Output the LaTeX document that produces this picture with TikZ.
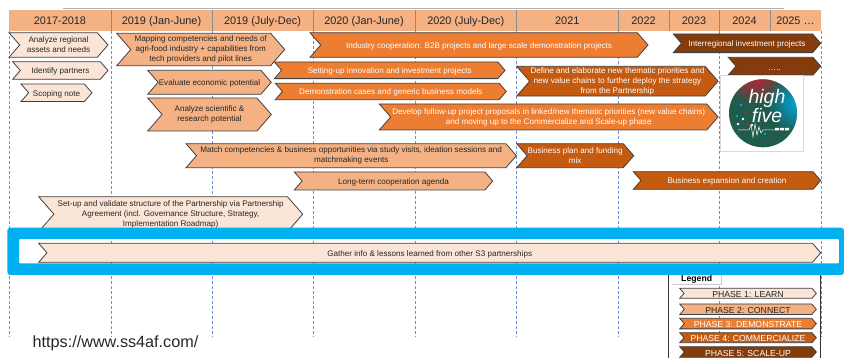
\documentclass[tikz,border=0pt]{standalone}
\usepackage{fontspec}
\setmainfont{Liberation Sans}
\usetikzlibrary{shapes.symbols, fadings}

\definecolor{PhaseLearn}{HTML}{FBE5D6}
\definecolor{PhaseConnect}{HTML}{F4B183}
\definecolor{PhaseDemonstrate}{HTML}{ED7D31}
\definecolor{PhaseCommercialize}{HTML}{C55A11}
\definecolor{PhaseScale}{HTML}{843C0C}
\definecolor{Frame}{HTML}{00B0F0}
\definecolor{GridBlue}{HTML}{6F8FCF}
\definecolor{LogoGreen}{HTML}{1F5C4C}
\definecolor{LogoRed}{HTML}{C8202F}
\definecolor{LogoCyan}{HTML}{00A6E0}

\tikzfading[name=logofade, inner color=transparent!0, outer color=transparent!100]

\tikzset{
  chevron/.style = {signal, signal from=west, signal to=east, signal pointer angle=98,
                    draw=black!75, line width=0.8pt, inner sep=0pt, outer sep=0pt,
                    align=center, font=\fontsize{8.1pt}{10pt}\selectfont,
                    execute at begin node=\rule{0pt}{8.3pt}},
  learn/.style = {chevron, fill=PhaseLearn, text=black!85},
  connect/.style = {chevron, fill=PhaseConnect, text=black!85},
  demonstrate/.style = {chevron, fill=PhaseDemonstrate, text=white},
  commercialize/.style = {chevron, fill=PhaseCommercialize, text=white},
  scaleup/.style = {chevron, fill=PhaseScale, text=white},
  legendtext/.style = {minimum width=136.6pt, font=\fontsize{8.7pt}{10pt}\selectfont},
  yearcell/.style = {rectangle, fill=PhaseConnect, inner sep=0pt, outer sep=0pt, minimum height=21pt,
                     text height=8pt, text depth=0pt,
                     font=\fontsize{10.9pt}{12pt}\selectfont, text=black!85},
  gridline/.style = {GridBlue, densely dashed, line width=0.6pt},
  yearline/.style = {black!45, line width=0.8pt},
  legendline/.style = {black!80, line width=0.7pt}
}

\begin{document}
\begin{tikzpicture}[x=1pt, y=-1pt]
  \useasboundingbox (0, 0) rectangle (844, 358);

  % Timeline header.
  \draw [black!30, line width=0.8pt] (63, 8.5) -- (784, 8.5);
  \node at (60, 20.5) [yearcell, minimum width=102pt, name=YearA] {2017-2018};
  \node at (161.5, 20.5) [yearcell, minimum width=101pt, name=YearB] {2019 (Jan-June)};
  \node at (262.5, 20.5) [yearcell, minimum width=101pt, name=YearC] {2019 (July-Dec)};
  \node at (364, 20.5) [yearcell, minimum width=102pt, name=YearD] {2020 (Jan-June)};
  \node at (465.75, 20.5) [yearcell, minimum width=101.5pt, name=YearE] {2020 (July-Dec)};
  \node at (567.25, 20.5) [yearcell, minimum width=101.5pt, name=YearF] {2021};
  \node at (643.5, 20.5) [yearcell, minimum width=51pt, name=YearG] {2022};
  \node at (694, 20.5) [yearcell, minimum width=50pt, name=YearH] {2023};
  \node at (744.5, 20.5) [yearcell, minimum width=51pt, name=YearI] {2024};
  \node at (795.4, 20.5) [yearcell, minimum width=50.8pt, name=YearJ] {2025 \dots};
  \coordinate (GridEnd) at (0, 336.5);

  \foreach \cell in {YearB, YearC, YearD, YearE, YearF, YearG, YearH, YearI, YearJ}
    \draw [yearline] (\cell.north west) -- (\cell.south west);
  \foreach \cell in {YearA, YearB, YearC, YearD, YearE, YearF, YearG, YearI}
    \draw [gridline] (\cell.south west) -- (\cell.south west |- GridEnd);
  \draw [gridline] (YearJ.south east) -- (YearJ.south east |- GridEnd);

  % Learn.
  \node at (58.5, 45) [learn, minimum width=99pt, minimum height=24.6pt, name=AnalyzeRegional] {Analyze regional\\assets and needs};
  \node at (60.3, 70.5) [learn, minimum width=95.3pt, minimum height=17.6pt, name=IdentifyPartners] {Identify partners};
  \node at (56.5, 92.8) [learn, minimum width=71pt, minimum height=17.6pt, name=ScopingNote] {Scoping note};
  \node at (170.7, 214.2) [learn, minimum width=264pt, minimum height=35pt, name=SetUpPartnership] {Set-up and validate structure of the Partnership via Partnership\\Agreement (incl. Governance Structure, Strategy,\\Implementation Roadmap)};
  \node at (429.7, 252.8) [learn, minimum width=782pt, minimum height=19pt, name=GatherInfo] {Gather info \& lessons learned from other S3 partnerships};

  % Connect.
  \node at (200.7, 49.5) [connect, minimum width=168pt, minimum height=32.4pt, name=MappingCompetencies] {Mapping competencies and needs of\\agri-food industry + capabilities from\\tech providers and pilot lines};
  \node at (209.5, 82.3) [connect, minimum width=123.6pt, minimum height=24pt, name=EvaluatePotential] {Evaluate economic potential};
  \node at (209.5, 114.5) [connect, minimum width=123.6pt, minimum height=33pt, name=AnalyzeScientific] {Analyze scientific \&\\research potential};
  \node at (351.2, 155.7) [connect, minimum width=330.3pt, minimum height=24pt, name=MatchCompetencies] {Match competencies \& business opportunities via study visits, ideation sessions and\\matchmaking events};
  \node at (393.5, 181) [connect, minimum width=198.4pt, minimum height=18pt, name=CooperationAgenda] {Long-term cooperation agenda};

  % Demonstrate.
  \node at (479, 45) [demonstrate, minimum width=338pt, minimum height=24.6pt, name=IndustryCooperation] {Industry cooperation: B2B projects and large scale demonstration projects};
  \node at (389.7, 70.3) [demonstrate, minimum width=230.7pt, minimum height=16.7pt, name=SettingUp] {Setting-up innovation and investment projects};
  \node at (390.8, 91.5) [demonstrate, minimum width=231pt, minimum height=16.4pt, name=DemonstrationCases] {Demonstration cases and generic business models};
  \node at (548.7, 117) [demonstrate, minimum width=338.7pt, minimum height=26pt, name=FollowUpProposals] {Develop follow-up project proposals in linked/new thematic priorities (new value chains)\\and moving up to the Commercialize and Scale-up phase};

  % Commercialize.
  \node at (617.4, 81.2) [commercialize, minimum width=201.3pt, minimum height=29.7pt, execute at begin node=\rule{0pt}{7.5pt}, name=DefinePriorities] {Define and elaborate new thematic priorities and\\new value chains to further deploy the strategy\\from the Partnership};
  \node at (575.2, 155.7) [commercialize, minimum width=117pt, minimum height=24pt, name=BusinessPlan] {Business plan and funding\\mix};
  \node at (727, 180.5) [commercialize, minimum width=187.4pt, minimum height=17.6pt, name=BusinessExpansion] {Business expansion and creation};

  % Scale-up.
  \node at (747, 43.3) [scaleup, minimum width=147.4pt, minimum height=18.7pt, name=InterregionalProjects] {Interregional investment projects};
  \node at (774.5, 66.2) [scaleup, minimum width=92.4pt, minimum height=17.7pt, name=FurtherProjects] {\dots..};

  % Logo.
  \node at (761.7, 113.3) [rectangle, draw=black!15, fill=white, line width=0.6pt, minimum width=83.3pt, minimum height=76pt, name=LogoBox] {};
  \begin{scope}
    \clip (763, 113.3) circle (34);
    \fill [LogoGreen] (725, 79) rectangle (800, 150);
    \fill [LogoRed, path fading=logofade] (755, 76) circle (30);
    \fill [LogoCyan, path fading=logofade] (797, 103) circle (30);
  \end{scope}
  \foreach \dotx/\doty/\dotcolor in {741/105/LogoCyan, 746/112/LogoRed, 737/116/LogoCyan, 743/119/white, 748/124/LogoRed, 738/124/white, 744/130/LogoRed, 752/125/white, 765/134/LogoCyan}
    \fill [\dotcolor] (\dotx, \doty) circle (1.3);
  \draw [white, line width=0.5pt] (738, 130) -- (749, 130) -- (751, 125) -- (753, 137) -- (755, 124) -- (757, 135) -- (759, 127) -- (761, 133) -- (763, 130) -- (775, 130);
  \fill [white] (775, 128) rectangle (779, 130.5) (780, 128) rectangle (784, 130.5) (785, 128) rectangle (789, 130.5);
  \node at (767, 106) [text=white, align=center, inner sep=0pt, name=LogoText, font=\fontsize{19.5pt}{19.5pt}\selectfont\itshape] {high\\five};

  % Frame around the shared action.
  \fill [Frame, even odd rule, rounded corners=3pt] (7.3, 227.7) rectangle (844, 275) [rounded corners=1pt] (19, 239) rectangle (839, 263.3);

  % Legend.
  \draw [legendline] (668.7, 358) -- (668.7, 275);
  \draw [legendline] (820.7, 275) -- (820.7, 358);
  \node at (696.7, 279.7) [rectangle, fill=white, inner sep=0pt, minimum width=49.3pt, minimum height=9.6pt, name=LegendTitle, font=\fontsize{8.7pt}{10pt}\selectfont\bfseries] {Legend};
  \draw [black!20, line width=0.5pt] (LegendTitle.south west) -- (LegendTitle.south east) -- (LegendTitle.north east);
  \node at (748, 293.3) [learn, legendtext, minimum height=10pt, name=LegendLearn] {PHASE 1: LEARN};
  \node at (748, 309.3) [connect, legendtext, minimum height=10.6pt, name=LegendConnect] {PHASE 2: CONNECT};
  \node at (748, 323.6) [demonstrate, legendtext, minimum height=10.6pt, name=LegendDemonstrate] {PHASE 3: DEMONSTRATE};
  \node at (748, 337.7) [commercialize, legendtext, minimum height=10pt, name=LegendCommercialize] {PHASE 4: COMMERCIALIZE};
  \node at (748, 352) [scaleup, legendtext, minimum height=10.6pt, name=LegendScale] {PHASE 5: SCALE-UP};

  % Link.
  \node at (115.5, 343.5) [text=black!85, inner sep=0pt, name=SiteLink, font=\fontsize{16.2pt}{18pt}\selectfont] {https://www.ss4af.com/};
\end{tikzpicture}
\end{document}
